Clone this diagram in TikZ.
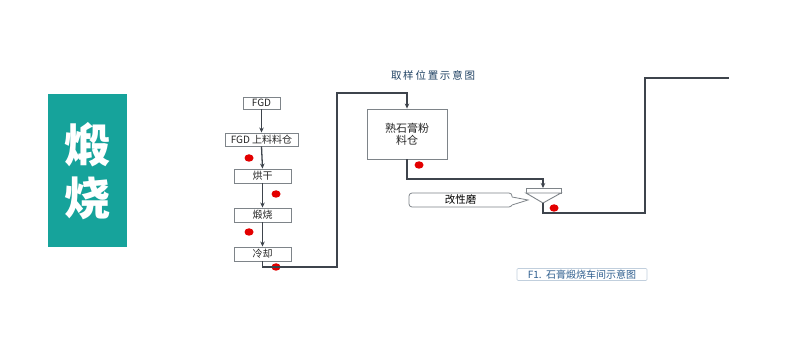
\documentclass[tikz,border=0pt]{standalone}
\usepackage{fontspec}
\newfontfamily\cjk{Noto Sans CJK SC}
\usetikzlibrary{arrows.meta}
\definecolor{teal1}{HTML}{16A39B}
\definecolor{linec}{HTML}{3E444C}
\definecolor{boxc}{HTML}{7E8489}
\definecolor{dotc}{HTML}{E30000}
\definecolor{capc}{HTML}{2F5F8F}
\tikzset{
  flowbox/.style={draw=boxc, line width=0.9pt, fill=white, inner sep=0pt, font=\cjk\fontsize{10}{11}\selectfont, text=black!85},
  conn/.style={draw=linec, line width=1.3pt},
  arr/.style={conn, -{Stealth[length=5pt,width=4.5pt]}},
  sdot/.style={fill=dotc, draw=none, ellipse, minimum width=9pt, minimum height=7.5pt, inner sep=0pt},
}
\usetikzlibrary{shapes.geometric}
\begin{document}
\begin{tikzpicture}[x=1pt,y=-1pt]
\useasboundingbox (0,0) rectangle (800,347);
\fill[white] (0,0) rectangle (800,347);
% left title block
\fill[teal1] (48,94) rectangle (127,247);
\node[font=\cjk\bfseries\fontsize{46}{48}\selectfont, text=white] (t1) at (87.5,145) {煅};
\node[font=\cjk\bfseries\fontsize{46}{48}\selectfont, text=white] (t2) at (87.5,198) {烧};
% flow boxes
\node[flowbox, minimum width=37pt, minimum height=12pt] (fgd) at (261.5,103) {FGD};
\node[flowbox, minimum width=73pt, minimum height=13pt] (cang) at (261.5,139.5) {FGD 上料料仓};
\node[flowbox, minimum width=57pt, minimum height=14pt] (hg) at (262.5,176) {烘干};
\node[flowbox, minimum width=57pt, minimum height=14pt] (ds) at (262.5,215) {煅烧};
\node[flowbox, minimum width=57pt, minimum height=14pt] (lq) at (262.5,254) {冷却};
\draw[arr] (fgd.south) -- (cang.north);
\draw[arr] (cang.south) -- (hg.north);
\draw[arr] (hg.south) -- (ds.north);
\draw[arr] (ds.south) -- (lq.north);
% sampling dots
\node[sdot] (d1) at (249,158) {};
\node[sdot] (d2) at (276,194) {};
\node[sdot] (d3) at (249,232) {};
\node[sdot] (d4) at (276,267) {};
% title
\node[font=\cjk\fontsize{10.5}{12}\selectfont, text=capc!70!black] (title) at (433,75) {取\,样\,位\,置\,示\,意\,图};
% product bin
\node[flowbox, minimum width=80pt, minimum height=50pt, align=center, font=\cjk\fontsize{11}{12}\selectfont] (bin) at (407,134) {熟石膏粉\\料仓};
\coordinate (c1) at (337,267);
\coordinate (c2) at (337,93);
\coordinate (c3) at (407,93);
\draw[arr] (lq.south) -- (lq.south |- c1) -- (c1) -- (c2) -- (c3) -- (bin.north);
\node[sdot] (d5) at (419,165) {};
% hopper / mill
\coordinate (htop) at (543,188);
\coordinate (hapex) at (543,203);
\draw[boxc, line width=0.9pt, fill=white] (526,188) rectangle (561,193);
\draw[boxc, line width=0.9pt, fill=white] (526,193) -- (561,193) -- (hapex) -- cycle;
\coordinate (e1) at (407,179);
\coordinate (e2) at (543,179);
\draw[arr] (bin.south) -- (e1) -- (e2) -- (htop);
\coordinate (f1) at (543,213);
\coordinate (f2) at (645,213);
\coordinate (f3) at (645,78);
\coordinate (f4) at (729,78);
\draw[conn] (hapex) -- (f1) -- (f2) -- (f3) -- (f4);
\node[sdot] (d6) at (554,208) {};
% callout
\node[draw=boxc, line width=0.8pt, rounded corners=3pt, fill=white, minimum width=103pt, minimum height=14pt, inner sep=0pt, font=\cjk\fontsize{10.5}{11}\selectfont] (gx) at (460.5,200) {改性磨};
\fill[white] (511,197) -- (528,200) -- (511,205) -- cycle;
\draw[boxc, line width=0.8pt] (512,197) -- (528,200) -- (512,205);
% caption
\node[draw=capc!30, line width=0.6pt, rounded corners=1pt, minimum width=130pt, minimum height=12pt, inner sep=0pt, font=\cjk\fontsize{10}{10}\selectfont, text=capc] (cap) at (582,274.5) {F1.\ \ 石膏煅烧车间示意图};
\end{tikzpicture}
\end{document}
